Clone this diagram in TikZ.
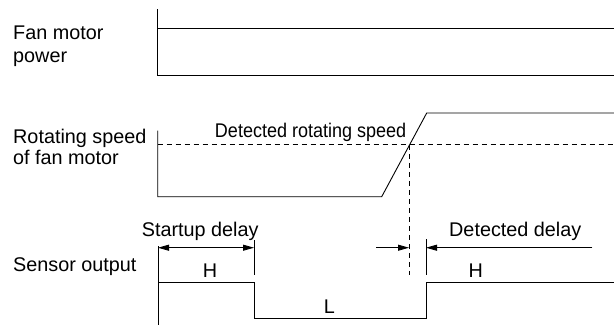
\documentclass[tikz,border=0pt]{standalone}
\usepackage{fontspec}
\setmainfont{Liberation Sans}
\newfontfamily\narrowfont[FakeStretch=0.91]{Liberation Sans}
\usetikzlibrary{arrows.meta}
\begin{document}
\begin{tikzpicture}[x=1pt,y=-1pt,
  sig/.style={line width=0.9pt, line join=miter},
  guide/.style={line width=0.9pt, dash pattern=on 5pt off 4pt},
  dim/.style={line width=0.9pt, -{Triangle[length=11pt,width=6pt]}},
  lbl/.style={anchor=base west, inner sep=0pt, font=\fontsize{19.8}{23}\selectfont},
  lblc/.style={anchor=base, inner sep=0pt, font=\fontsize{19.8}{23}\selectfont}]
\useasboundingbox (0,0) rectangle (614,325);
% labels
\node[lbl] (fm1) at (13,39.3) {Fan motor};
\node[lbl] (fm2) at (13,62.5) {power};
\node[lbl] (rs1) at (13,143.3) {Rotating speed};
\node[lbl] (rs2) at (13,164.3) {of fan motor};
\node[lbl] (so) at (13,271.5) {Sensor output};
\node[anchor=base east, inner sep=0pt, font=\narrowfont\fontsize{19.8}{23}\selectfont] (drs) at (406.5,137.3) {Detected rotating speed};
\node[lbl] (sd) at (141.7,236) {Startup delay};
\node[lbl] (dd) at (449,236) {Detected delay};
\node[lblc] (h1) at (210,277.3) {H};
\node[lblc] (h2) at (475.7,277.3) {H};
\node[lblc] (lo) at (329.5,313.3) {L};
% fan motor power
\coordinate (pa) at (157.7,9.3);
\coordinate (pb) at (157.7,75.7);
\coordinate (pc) at (614,75.7);
\coordinate (pd) at (157.7,28.3);
\coordinate (pe) at (614,28.3);
\draw[sig] (pa) -- (pb) -- (pc);
\draw[sig] (pd) -- (pe);
% rotating speed
\coordinate (ra) at (157.7,130.7);
\coordinate (rb) at (157.7,196.7);
\coordinate (rc) at (381.7,196.7);
\coordinate (rd) at (426.7,113);
\coordinate (re) at (614,113);
\draw[sig] (ra) -- (rb) -- (rc) -- (rd) -- (re);
\coordinate (da) at (157.7,144.8);
\coordinate (db) at (614,144.8);
\draw[guide] (da) -- (db);
\coordinate (va) at (409,144.8);
\coordinate (vb) at (409,275);
\draw[guide] (va) -- (vb);
% sensor output
\coordinate (sa) at (158,246);
\coordinate (sb) at (158,325);
\draw[sig] (sa) -- (sb);
\coordinate (s1) at (158,282.3);
\coordinate (s2) at (254,282.3);
\coordinate (s3) at (254,318.3);
\coordinate (s4) at (426,318.3);
\coordinate (s5) at (426,282.3);
\coordinate (s6) at (614,282.3);
\draw[sig] (s1) -- (s2) -- (s3) -- (s4) -- (s5) -- (s6);
\coordinate (t1a) at (254,240);
\coordinate (t1b) at (254,275);
\draw[sig] (t1a) -- (t1b);
\coordinate (t2a) at (426,239.3);
\coordinate (t2b) at (426,275);
\draw[sig] (t2a) -- (t2b);
% dimension arrows
\coordinate (a1) at (158,247.7);
\coordinate (a2) at (254,247.7);
\draw[dim, {Triangle[length=11pt,width=6pt]}-{Triangle[length=11pt,width=6pt]}] (a1) -- (a2);
\coordinate (a3) at (376,247.7);
\coordinate (a4) at (409,247.7);
\draw[dim] (a3) -- (a4);
\coordinate (a5) at (592.3,247.7);
\coordinate (a6) at (426,247.7);
\draw[dim] (a5) -- (a6);
\end{tikzpicture}
\end{document}
